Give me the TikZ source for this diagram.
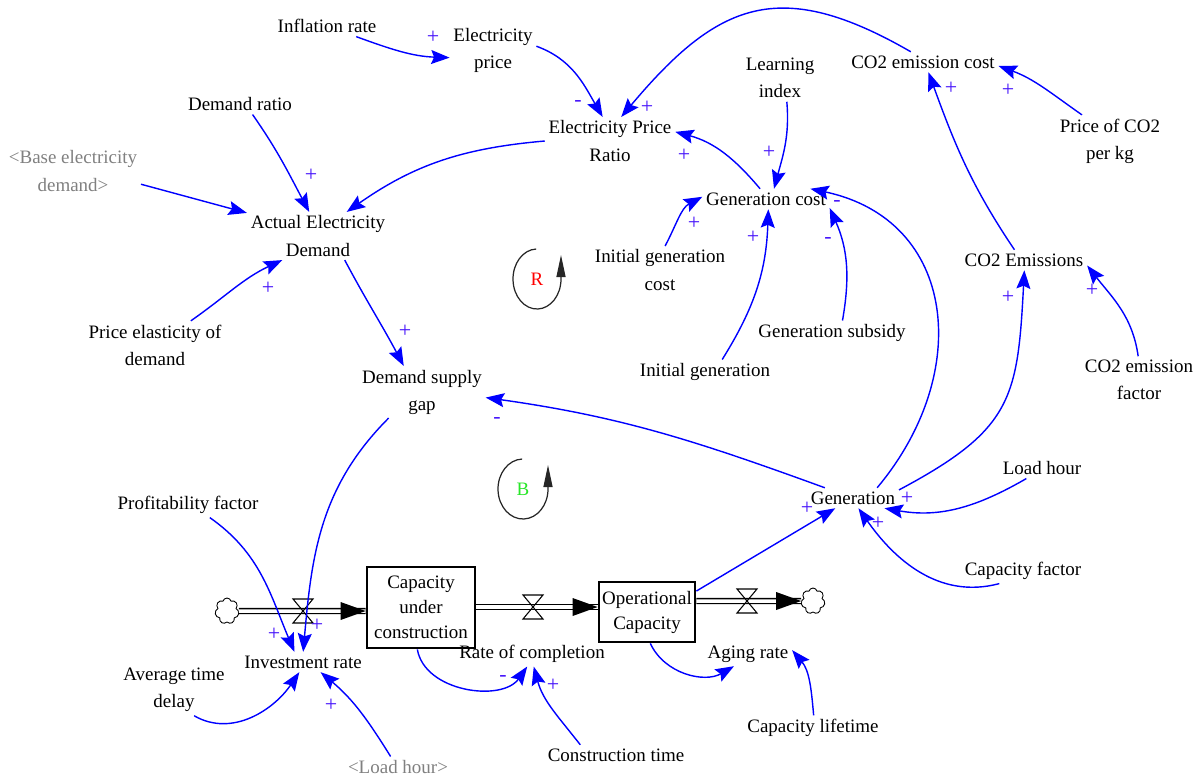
\documentclass[tikz,border=0pt]{standalone}
\usepackage{fontspec}
\setmainfont{Liberation Serif}
\usetikzlibrary{arrows.meta,shapes.symbols}
\definecolor{linkblue}{RGB}{0,0,255}
\definecolor{signcol}{RGB}{70,20,250}
\definecolor{shadowgray}{RGB}{128,128,128}
\definecolor{loopgreen}{RGB}{40,230,40}
\newcommand{\flowvalve}[1]{\draw[line width=0.6pt] (#1) ++(-10,12) -- ++(20,0) -- ++(-20,-24) -- ++(20,0) -- cycle;}
\begin{document}
\begin{tikzpicture}[x=0.02cm, y=0.02cm,
    var/.style={font=\fontsize{10.8}{15.4}\selectfont, align=center, inner sep=2pt},
    shadow/.style={var, text=shadowgray},
    stock/.style={font=\fontsize{10.8}{14.2}\selectfont, align=center, draw, line width=1.6pt, inner sep=0pt},
    link/.style={linkblue, line width=0.8pt, -{Stealth[length=3.7mm,width=2.8mm,inset=0.6mm]}},
    pol/.style={text=signcol, font=\fontsize{12.5}{12.5}\selectfont, inner sep=0pt},
    pipe/.style={draw=black, double=white, double distance=2pt, line width=0.8pt},
    loopmark/.style={line width=0.7pt, black!85, -{Triangle[length=4.4mm,width=1.8mm]}},
    cloudy/.style={cloud, cloud puffs=7, aspect=1, draw, line width=0.5pt, fill=white, minimum width=0.48cm, minimum height=0.52cm, inner sep=0pt}]
    \useasboundingbox (0,0) rectangle (1201,-779);

    \node[var] (infl) at (327,-26) {Inflation rate};
    \node[var] (eprice) at (493,-50) {Electricity\\price};
    \node[var] (epr) at (610,-141) {Electricity Price\\Ratio};
    \node[var] (learn) at (780,-78) {Learning\\index};
    \node[var] (co2cost) at (923,-62) {CO2 emission cost};
    \node[var] (pco2) at (1110,-141) {Price of CO2\\per kg};
    \node[var] (dratio) at (240,-104) {Demand ratio};
    \node[shadow] (based) at (73,-171) {<Base electricity\\demand>};
    \node[var] (aed) at (318,-236) {Actual Electricity\\Demand};
    \node[var] (gcost) at (766,-199) {Generation cost};
    \node[var] (igcost) at (660,-270) {Initial generation\\cost};
    \node[var] (co2em) at (1024,-260) {CO2 Emissions};
    \node[var] (gsub) at (832,-333) {Generation subsidy};
    \node[var] (igen) at (705,-372) {Initial generation};
    \node[var] (co2f) at (1139,-380) {CO2 emission\\factor};
    \node[var] (pel) at (155,-345) {Price elasticity of\\demand};
    \node[var] (dsg) at (422,-392) {Demand supply\\gap};
    \node[var] (loadh) at (1042,-468) {Load hour};
    \node[var] (gen) at (853,-498) {Generation};
    \node[var] (prof) at (188,-505) {Profitability factor};
    \node[var] (capf) at (1023,-571) {Capacity factor};
    \node[stock, minimum width=2.16cm, minimum height=1.62cm] (cuc) at (421,-607.5) {Capacity\\under\\construction};
    \node[stock, minimum width=1.92cm, minimum height=1.2cm] (opc) at (647,-612) {Operational\\Capacity};
    \node[var] (inv) at (303,-662) {Investment rate};
    \node[var] (rcomp) at (532,-654) {Rate of completion};
    \node[var] (aging) at (748,-654) {Aging rate};
    \node[var] (atd) at (174,-690) {Average time\\delay};
    \node[var] (clife) at (813,-728) {Capacity lifetime};
    \node[var] (ctime) at (616,-755) {Construction time};
    \node[shadow] (lhs) at (398,-767) {<Load hour>};

    \node[cloudy] (src) at (227,-611) {};
    \node[cloudy] (sink) at (813,-601) {};
    \coordinate (v1) at (303,-611);
    \coordinate (v2) at (533,-607);
    \coordinate (v3) at (747,-601);
    \draw[pipe] (src.east) -- (src -| cuc.west);
    \draw[pipe] (cuc.east |- v2) -- (opc.west |- v2);
    \draw[pipe] (opc.east |- sink) -- (sink.west);
    \fill (src -| cuc.west) -- ++(-25,9) -- ++(0,-18) -- cycle;
    \fill (opc.west |- v2) -- ++(-25,9) -- ++(0,-18) -- cycle;
    \fill (sink.west) -- ++(-25,9) -- ++(0,-18) -- cycle;
    \flowvalve{v1}
    \flowvalve{v2}
    \flowvalve{v3}

    \node[var, text=red] (loopR) at (537,-279) {R};
    \draw[loopmark] (loopR) ++(92:24 and 30) arc[start angle=92, end angle=360, x radius=24, y radius=30] -- ++(0,24);
    \node[var, text=loopgreen] (loopB) at (523,-489) {B};
    \draw[loopmark] (loopB) ++(92:25 and 30) arc[start angle=92, end angle=360, x radius=25, y radius=30] -- ++(0,24);

    \draw[link] (infl.-20) to[out=-20,in=178] (eprice.190);
    \draw[link] (eprice.5) to[out=-20,in=120] (epr.107);
    \draw[link] (co2cost.140) to[out=150,in=50,looseness=1.3] (epr.65);
    \draw[link] (gcost.120) to[out=130,in=-15] (epr.8);
    \draw[link] (epr.180) to[out=185,in=35] (aed.40);
    \draw[link] (dratio.-40) to[out=-55,in=118] (aed.110);
    \draw[link] (based.-11) -- (aed.162);
    \draw[link] (pel.34) to[out=35,in=-155] (aed.-146);
    \draw[link] (aed.-42) to[out=-62,in=118] (dsg.125);
    \draw[link] (learn.-74) to[out=-85,in=75] (gcost.52);
    \draw[link] (igcost.78) to[out=62,in=208] (gcost.178);
    \draw[link] (igen.36) to[out=58,in=-92] (gcost.-77);
    \draw[link] (gsub.50) to[out=80,in=-66] (gcost.-8);
    \draw[link] (gen.23) to[out=50,in=-12,looseness=1.25] (gcost.13);
    \draw[link] (pco2.137) to[out=145,in=-20] (co2cost.-3);
    \draw[link] (co2em.133) to[out=124,in=-70] (co2cost.-62);
    \draw[link] (co2f.92) to[out=98,in=-52] (co2em.-5);
    \draw[link] (gen.10) to[out=28,in=-93,looseness=1.3] (co2em.-88);
    \draw[link] (gen.160) to[out=160,in=-8] (dsg.-5);
    \draw[link] (loadh.-146) to[out=210,in=-10] (gen.-18);
    \draw[link] (capf.-152) to[out=195,in=-55] (gen.-62);
    \draw[link] (opc.23) -- (gen.-150);
    \draw[link] (dsg.-142) to[out=225,in=85] (inv.89);
    \draw[link] (prof.-30) to[out=-35,in=113] (inv.130);
    \draw[link] (atd.-52) to[out=-30,in=-124] (inv.-110);
    \draw[link] (lhs.125) to[out=122,in=-40] (inv.-30);
    \draw[link] (cuc.-95) to[out=-80,in=-125] (rcomp.-111);
    \draw[link] (ctime.164) to[out=128,in=-75] (rcomp.-82);
    \draw[link] (opc.-84) to[out=-65,in=-150] (aging.-139);
    \draw[link] (clife.87) to[out=95,in=-50] (aging.5);

    \foreach \px/\py/\s [count=\i] in {433/-37/+, 578/-103/-, 647/-107/+, 684/-155/+,
        769/-152/+, 951/-88/+, 1008/-90/+, 311/-175/+, 268/-288/+, 405/-331/+,
        694/-223/+, 753/-237/+, 828/-240/-, 837/-203/-, 1008/-297/+, 1092/-290/+,
        497/-420/-, 907/-498/+, 878/-523/+, 807/-508/+, 274/-634/+, 317/-625/+,
        331/-705/+, 503/-678/-, 553/-685/+}
        \node[pol] (sg\i) at (\px,\py) {\s};
\end{tikzpicture}
\end{document}
